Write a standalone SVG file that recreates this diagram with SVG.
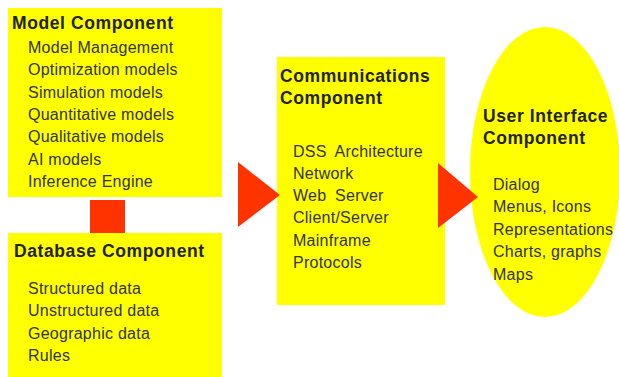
<svg xmlns="http://www.w3.org/2000/svg" width="619" height="377" viewBox="0 0 619 377">
<style>
.box{fill:#ffff00}
.arr{fill:#ff3300}
.t{font-family:"Liberation Sans",Arial,sans-serif;font-size:17.5px;font-weight:bold;letter-spacing:0.6px;fill:#222}
.i{font-family:"Liberation Sans",Arial,sans-serif;font-size:16px;letter-spacing:0.25px;fill:#333}
.c{word-spacing:4px}
</style>
<rect width="619" height="377" fill="#ffffff"/>
<g id="model">
<rect class="box" x="8" y="8" width="214" height="189"/>
<text class="t" x="12" y="29">Model Component</text>
<text class="i" x="28" y="53">Model Management</text>
<text class="i" x="28" y="75">Optimization models</text>
<text class="i" x="28" y="98">Simulation models</text>
<text class="i" x="28" y="120">Quantitative models</text>
<text class="i" x="28" y="142">Qualitative models</text>
<text class="i" x="28" y="165">AI models</text>
<text class="i" x="28" y="187">Inference Engine</text>
</g>
<g id="database">
<rect class="box" x="8" y="233" width="214" height="144"/>
<text class="t" x="14" y="257">Database Component</text>
<text class="i" x="28" y="294">Structured data</text>
<text class="i" x="28" y="316">Unstructured data</text>
<text class="i" x="28" y="339">Geographic data</text>
<text class="i" x="28" y="361">Rules</text>
</g>
<g id="comms">
<rect class="box" x="277" y="57" width="168" height="248"/>
<text class="t" x="280" y="82">Communications</text>
<text class="t" x="280" y="104">Component</text>
<text class="i c" x="293" y="157">DSS Architecture</text>
<text class="i" x="293" y="179">Network</text>
<text class="i c" x="293" y="201">Web Server</text>
<text class="i" x="293" y="223">Client/Server</text>
<text class="i" x="293" y="246">Mainframe</text>
<text class="i" x="293" y="268">Protocols</text>
</g>
<g id="ui">
<ellipse class="box" cx="545" cy="172" rx="75" ry="145"/>
<text class="t" x="483" y="122">User Interface</text>
<text class="t" x="483" y="144">Component</text>
<text class="i" x="493" y="190">Dialog</text>
<text class="i" x="493" y="212">Menus, Icons</text>
<text class="i" x="493" y="235">Representations</text>
<text class="i" x="493" y="257">Charts, graphs</text>
<text class="i" x="493" y="280">Maps</text>
</g>
<g id="connectors">
<rect class="arr" x="90" y="200" width="35" height="33"/>
<polygon class="arr" points="238,162 280,195 238,227"/>
<polygon class="arr" points="438,163 478,197 438,228"/>
</g>
</svg>
